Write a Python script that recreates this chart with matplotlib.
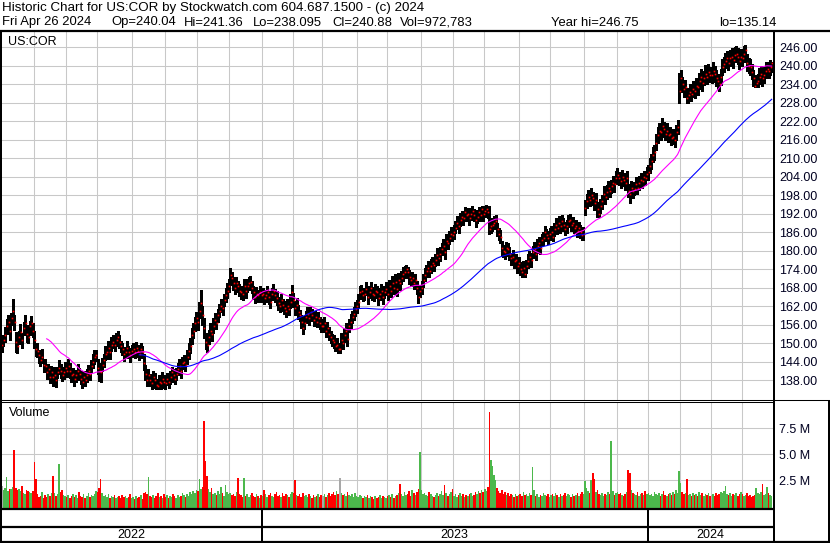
import matplotlib
matplotlib.use('Agg')
import matplotlib.pyplot as plt
from matplotlib.lines import Line2D
import numpy as np
import pandas as pd

plt.rcParams['font.family'] = ['Liberation Sans', 'DejaVu Sans']

# NYSE holidays inside the window
holidays = ['2022-05-30', '2022-06-20', '2022-07-04', '2022-09-05', '2022-11-24',
            '2022-12-26', '2023-01-02', '2023-01-16', '2023-02-20', '2023-04-07',
            '2023-05-29', '2023-06-19', '2023-07-04', '2023-09-04', '2023-11-23',
            '2023-12-25', '2024-01-01', '2024-01-15', '2024-02-19', '2024-03-29']

# daily closes, one row per month (May 2022 .. Apr 2024)
close = [
    149.5, 151.0, 152.5, 155.5, 157.0, 154.0, 158.0, 160.5, 157.0, 150.5, 149.0, 152.0, 153.5, 151.0, 155.0, 156.5, 153.0, 152.0, 155.5, 156.5, 154.0,
    151.0, 148.0, 147.5, 146.0, 144.5, 145.5, 143.0, 142.5, 140.5, 141.5, 139.0, 140.5, 139.0, 139.5, 138.0, 140.5, 142.0, 141.0, 139.5, 140.5, 142.0,
    141.0, 142.5, 141.0, 139.5, 140.0, 138.5, 139.5, 141.0, 140.0, 138.5, 137.5, 139.0, 138.0, 139.5, 141.0, 140.0, 142.5, 144.0, 145.5, 146.0,
    142.0, 141.0, 140.5, 143.0, 144.5, 146.5, 147.0, 148.5, 147.0, 149.5, 150.5, 149.5, 151.0, 152.0, 150.5, 149.0, 148.0, 146.5, 147.0, 148.5, 147.0, 146.0, 147.5,
    148.0, 147.0, 148.5, 147.5, 146.5, 148.0, 147.0, 143.5, 140.0, 138.0, 139.5, 138.0, 137.0, 139.0, 138.0, 136.5, 136.0, 137.5, 137.0, 138.5, 137.5,
    137.0, 138.5, 137.5, 139.0, 140.5, 139.5, 138.5, 140.0, 141.5, 142.5, 141.0, 143.5, 144.0, 143.0, 145.5, 147.5, 149.0, 152.5, 154.0, 156.5, 158.0,
    157.0, 160.5, 163.0, 159.0, 155.0, 150.5, 149.5, 152.0, 154.0, 153.0, 155.5, 157.5, 156.5, 159.0, 160.5, 162.0, 161.5, 164.0, 165.5, 167.0, 168.5,
    172.0, 171.0, 169.5, 168.0, 169.5, 168.5, 167.0, 166.5, 166.0, 168.5, 167.0, 168.5, 169.5, 170.0, 168.0, 166.5, 165.0, 166.0, 165.5, 166.5, 165.5,
    166.0, 164.5, 165.5, 166.5, 165.0, 163.5, 166.0, 167.0, 165.5, 164.5, 163.0, 162.0, 164.0, 162.5, 161.5, 160.5, 162.0, 161.0, 163.5, 166.5,
    164.0, 161.5, 162.5, 160.0, 159.0, 157.0, 155.0, 156.5, 158.5, 159.5, 158.0, 160.0, 159.0, 157.5, 158.5, 157.0, 158.0, 156.5, 155.5,
    155.5, 156.5, 154.0, 155.0, 153.0, 152.0, 151.0, 150.5, 149.0, 149.5, 148.0, 148.0, 151.0, 150.0, 152.5, 154.0, 151.5, 155.5, 157.0, 158.5, 159.5, 161.0, 162.0,
    163.5, 166.5, 167.0, 165.5, 166.0, 167.5, 165.0, 166.5, 168.0, 166.0, 165.5, 167.0, 166.5, 164.5, 166.0, 167.0, 165.0, 166.5, 167.5,
    166.0, 168.5, 167.0, 169.5, 168.0, 170.0, 167.5, 170.5, 169.5, 171.0, 172.5, 173.0, 174.0, 173.0, 171.5, 170.5, 171.0, 169.5, 170.5, 168.0, 165.0, 167.0,
    168.0, 170.5, 172.0, 173.5, 174.5, 173.5, 175.0, 176.0, 175.5, 177.0, 178.5, 177.5, 179.0, 180.5, 181.5, 179.5, 183.0, 182.5, 184.0, 185.5, 185.0,
    186.0, 187.5, 189.0, 188.0, 190.0, 191.0, 190.5, 192.5, 191.5, 192.0, 190.5, 192.0, 193.0, 191.5, 190.0, 191.0, 192.5, 191.5, 193.5, 192.0,
    193.0, 193.5, 192.5, 187.0, 188.0, 188.5, 189.0, 189.5, 187.0, 185.5, 184.5, 181.0, 180.0, 179.5, 181.0, 180.5, 179.0, 177.5, 178.0, 176.5, 177.0, 175.0, 176.0,
    174.0, 173.0, 174.5, 172.5, 175.0, 176.5, 178.0, 177.0, 179.5, 180.5, 179.0, 181.5, 182.5, 181.0, 183.5, 184.0, 186.0, 185.0, 184.0, 185.5,
    186.0, 184.5, 187.0, 188.5, 187.5, 189.0, 188.0, 189.5, 188.5, 187.0, 188.0, 189.5, 190.0, 188.5, 189.0, 187.5, 188.0, 186.5, 187.5, 186.0, 185.0, 185.5,
    194.0, 196.0, 197.5, 196.5, 198.0, 197.0, 195.5, 196.5, 193.5, 192.0, 194.5, 196.0, 198.5, 197.5, 199.0, 200.5, 199.5, 201.0, 202.0, 201.5, 203.5,
    204.5, 203.5, 202.5, 204.0, 203.0, 202.0, 203.5, 199.5, 198.5, 200.5, 199.5, 200.0, 201.5, 200.5, 202.0, 203.0, 202.5, 204.0, 203.5, 205.0,
    205.5, 207.5, 209.0, 211.0, 212.0, 215.0, 217.5, 219.0, 218.5, 220.5, 219.5, 218.0, 219.0, 217.5, 218.0, 216.5, 217.0, 216.0, 218.5, 220.0, 232.0,
    236.0, 234.0, 232.5, 233.0, 229.5, 230.5, 231.5, 231.0, 232.5, 232.0, 233.5, 233.0, 235.0, 236.5, 234.5, 236.0, 237.5, 236.5, 238.0, 237.0,
    237.0, 238.5, 237.5, 236.0, 235.0, 234.0, 236.5, 239.5, 240.5, 241.5, 242.5, 241.0, 242.5, 243.0, 242.0, 243.5, 244.0, 243.0, 241.5, 243.0,
    242.5, 244.0, 245.0, 241.0, 240.0, 239.5, 238.0, 236.0, 233.5, 234.5, 235.0, 236.5, 237.5, 236.0, 237.0, 238.5, 239.0, 238.5, 239.5, 240.88,
]

# distance from close up to the day's high
up = [
    2.1, 1.8, 2.6, 2.4, 2.0, 2.9, 1.9, 3.9, 2.2, 3.1, 2.4, 1.9, 2.7, 2.3, 1.8, 2.5, 3.0, 2.0, 1.7, 2.2, 2.6,
    2.8, 2.0, 2.4, 1.8, 2.2, 2.6, 1.9, 2.3, 2.5, 1.7, 2.4, 2.0, 2.2, 2.7, 1.9, 1.8, 2.5, 2.2, 2.4, 1.7, 2.0,
    1.9, 2.2, 2.4, 1.8, 2.0, 2.3, 1.7, 2.2, 1.9, 2.5, 2.0, 1.8, 2.3, 2.2, 1.9, 2.4, 2.0, 2.5, 2.2, 1.9,
    3.0, 2.4, 2.6, 2.2, 1.9, 2.5, 2.0, 2.3, 2.2, 2.4, 2.0, 1.9, 2.3, 1.9, 2.2, 1.8, 2.0, 2.4, 1.9, 2.2, 2.0, 2.3, 1.8,
    1.9, 2.2, 1.8, 2.0, 2.3, 1.9, 2.2, 3.0, 2.8, 2.4, 2.2, 2.0, 2.3, 1.9, 2.2, 2.0, 1.8, 2.2, 1.9, 2.0, 2.3,
    2.2, 1.9, 2.3, 2.0, 1.8, 2.2, 2.4, 1.9, 2.0, 2.3, 2.2, 1.9, 2.0, 2.4, 2.2, 2.5, 2.6, 2.3, 2.4, 2.0, 2.2,
    2.6, 2.8, 4.4, 3.0, 3.2, 2.9, 2.6, 2.4, 2.6, 2.3, 2.5, 2.2, 2.4, 2.0, 2.3, 2.2, 2.4, 2.0, 2.3, 2.5, 2.2,
    2.5, 2.2, 1.9, 2.3, 2.0, 1.8, 2.2, 1.9, 2.0, 2.3, 1.9, 2.2, 2.0, 1.8, 2.2, 1.9, 2.0, 2.3, 1.9, 2.2, 1.8,
    2.0, 2.3, 1.9, 2.2, 2.0, 2.4, 1.9, 2.2, 2.0, 2.3, 1.9, 2.2, 2.0, 1.8, 2.3, 2.0, 2.2, 1.9, 2.4, 2.5,
    2.4, 2.2, 2.0, 2.3, 1.9, 2.2, 2.0, 2.3, 1.9, 2.2, 2.0, 1.8, 2.2, 2.0, 1.9, 2.3, 2.0, 1.9, 2.2,
    2.2, 2.0, 2.3, 1.9, 2.2, 2.0, 1.9, 2.2, 2.0, 2.3, 1.9, 2.2, 2.4, 2.0, 2.3, 2.5, 2.2, 2.4, 2.3, 2.0, 2.2, 2.4, 2.0,
    2.3, 2.0, 1.9, 2.2, 2.0, 2.4, 1.9, 2.2, 2.0, 2.3, 1.9, 2.2, 2.0, 2.4, 1.9, 2.2, 2.0, 1.9, 2.3,
    2.2, 2.0, 2.3, 2.4, 2.0, 2.3, 2.2, 2.4, 2.0, 2.3, 2.2, 1.9, 1.5, 1.8, 2.3, 2.0, 2.2, 1.9, 2.0, 2.2, 2.4, 2.0,
    2.2, 2.0, 2.3, 1.9, 2.2, 2.0, 2.3, 1.9, 2.2, 2.0, 2.3, 1.9, 2.2, 2.0, 2.3, 2.2, 2.4, 2.0, 2.3, 2.2, 2.0,
    2.3, 2.0, 2.2, 1.9, 2.3, 2.0, 2.2, 1.6, 2.0, 1.8, 2.2, 1.9, 1.4, 2.2, 2.0, 2.3, 1.6, 2.2, 1.0, 1.8,
    1.4, 1.2, 1.6, 7.5, 2.4, 2.0, 2.3, 2.2, 2.0, 1.9, 2.2, 2.3, 2.0, 2.2, 1.9, 2.0, 2.3, 1.9, 2.2, 2.0, 1.9, 2.2, 2.0,
    2.2, 2.0, 2.3, 2.2, 2.0, 2.3, 1.9, 2.2, 2.0, 2.3, 1.9, 2.2, 2.0, 2.3, 1.9, 2.2, 2.0, 1.9, 2.3, 2.0,
    2.0, 2.3, 1.9, 2.2, 2.0, 2.3, 1.9, 2.2, 2.0, 2.3, 1.9, 2.2, 2.0, 2.3, 1.9, 2.2, 2.0, 2.3, 1.9, 2.2, 2.0, 2.3,
    2.6, 2.4, 2.3, 2.2, 2.4, 2.0, 2.3, 2.2, 2.4, 2.0, 2.3, 2.2, 2.4, 2.0, 2.3, 2.2, 2.4, 2.0, 2.3, 2.2, 2.4,
    2.3, 2.0, 2.4, 2.2, 2.3, 2.0, 2.4, 2.2, 2.3, 2.0, 2.4, 2.2, 2.3, 2.0, 2.4, 2.2, 2.3, 2.0, 2.4, 2.2,
    2.4, 2.6, 2.5, 2.7, 2.4, 2.8, 2.6, 2.5, 2.4, 2.6, 2.3, 2.5, 2.4, 2.6, 2.3, 2.5, 2.4, 2.6, 2.3, 2.5, 5.7,
    2.6, 2.4, 2.8, 2.5, 2.7, 2.4, 2.6, 2.5, 2.7, 2.4, 2.6, 2.5, 2.7, 2.4, 2.6, 2.5, 2.7, 2.4, 2.6, 2.5,
    2.5, 2.7, 2.4, 2.6, 2.5, 2.7, 2.4, 2.6, 2.5, 2.7, 2.4, 2.6, 2.5, 2.7, 2.4, 2.6, 2.5, 2.7, 2.4, 2.6,
    2.6, 2.4, 1.75, 2.7, 2.4, 2.6, 2.5, 2.7, 2.4, 2.6, 2.5, 2.7, 2.4, 2.6, 2.5, 2.7, 2.4, 2.6, 2.5, 0.48,
]

# distance from close down to the day's low
dn = [
    2.3, 1.9, 2.1, 2.6, 1.7, 2.9, 2.0, 2.4, 2.8, 3.5, 2.1, 2.4, 1.9, 2.6, 2.2, 1.8, 2.5, 2.0, 2.7, 2.1, 1.9,
    2.5, 2.1, 1.9, 2.6, 2.0, 1.8, 2.4, 1.7, 2.2, 2.5, 2.0, 1.9, 2.8, 2.1, 2.4, 1.8, 2.0, 2.2, 1.9, 2.1, 1.8,
    2.0, 1.8, 2.2, 2.1, 1.9, 2.3, 2.0, 1.7, 2.1, 1.9, 2.0, 2.0, 1.8, 2.2, 1.9, 2.1, 1.8, 2.0, 2.3, 1.9,
    2.1, 3.2, 3.0, 1.9, 2.2, 2.0, 2.3, 1.8, 2.1, 1.9, 2.2, 2.0, 1.8, 2.3, 2.1, 1.9, 2.0, 2.2, 1.8, 2.1, 1.9, 2.0, 2.1,
    2.0, 1.8, 2.1, 1.9, 2.0, 2.2, 1.9, 2.3, 2.1, 2.0, 2.4, 1.8, 1.8, 1.8, 2.5, 1.3, 0.86, 2.3, 1.8, 2.1, 2.2,
    1.8, 2.1, 2.0, 2.2, 1.9, 2.0, 1.8, 2.1, 2.0, 1.9, 2.2, 2.0, 2.1, 1.9, 2.3, 2.5, 2.2, 2.7, 2.4, 2.6, 2.3,
    2.7, 2.5, 3.0, 3.1, 3.3, 2.5, 2.5, 2.3, 2.2, 2.4, 2.1, 2.3, 2.0, 2.2, 2.1, 1.9, 2.3, 2.0, 2.1, 2.2, 2.0,
    2.3, 2.0, 2.1, 1.9, 2.2, 2.0, 1.8, 2.1, 1.9, 2.0, 2.2, 1.9, 2.1, 2.0, 1.8, 2.1, 2.0, 1.9, 2.2, 2.0, 2.1,
    2.1, 1.9, 2.0, 1.8, 2.2, 2.0, 2.1, 1.9, 2.3, 2.0, 2.1, 1.9, 2.0, 2.2, 1.9, 2.1, 2.0, 1.8, 2.1, 2.0,
    2.2, 2.3, 2.0, 2.1, 1.9, 2.2, 2.1, 2.0, 1.9, 2.1, 2.0, 2.2, 1.9, 2.1, 2.0, 1.8, 2.1, 2.0, 1.9,
    2.0, 2.2, 2.1, 1.9, 2.0, 2.1, 1.9, 2.2, 1.7, 1.9, 1.2, 1.2, 2.3, 2.0, 2.2, 2.1, 2.4, 2.0, 2.2, 2.1, 1.9, 2.3, 2.1,
    2.1, 2.3, 2.0, 1.9, 2.1, 2.0, 2.2, 1.9, 2.1, 2.0, 1.9, 2.2, 2.0, 2.1, 1.9, 2.0, 2.2, 1.9, 2.0,
    2.0, 2.1, 1.9, 2.2, 2.0, 2.1, 2.3, 2.0, 2.1, 1.9, 2.2, 2.0, 2.1, 1.9, 2.2, 2.0, 2.1, 2.0, 1.9, 2.1, 2.0, 2.0,
    2.0, 2.2, 1.9, 2.1, 2.0, 1.9, 2.1, 2.0, 2.2, 1.9, 2.1, 2.0, 2.2, 1.9, 2.1, 2.3, 2.0, 2.1, 1.9, 2.2, 2.0,
    2.1, 1.9, 2.0, 2.2, 1.9, 2.1, 2.0, 2.2, 1.9, 2.1, 2.3, 2.0, 2.1, 1.9, 2.2, 2.0, 2.1, 1.9, 2.0, 2.2,
    2.0, 2.1, 1.9, 1.5, 2.2, 2.1, 2.0, 2.2, 2.3, 2.1, 2.0, 2.5, 2.2, 2.1, 2.0, 2.2, 2.1, 2.0, 1.9, 2.1, 2.0, 2.2, 2.1,
    2.0, 1.4, 2.9, 0.9, 2.2, 2.1, 2.0, 2.2, 1.9, 2.1, 2.0, 2.2, 1.9, 2.1, 2.0, 2.2, 2.1, 2.0, 1.9, 2.1,
    2.1, 1.5, 2.2, 1.9, 2.1, 2.0, 2.2, 1.9, 2.1, 2.0, 2.2, 1.9, 2.1, 2.0, 2.2, 1.9, 2.1, 2.0, 2.2, 2.0, 1.4, 2.1,
    2.5, 2.1, 2.3, 2.0, 2.2, 2.1, 2.3, 2.0, 2.5, 1.0, 2.1, 2.3, 2.0, 2.2, 2.1, 2.3, 2.0, 2.2, 2.1, 2.3, 2.0,
    2.1, 2.3, 2.0, 2.2, 2.1, 2.3, 2.0, 2.2, 2.9, 2.1, 2.3, 2.0, 2.2, 2.1, 2.3, 2.0, 2.2, 2.1, 2.3, 2.0,
    2.4, 2.3, 2.5, 2.2, 2.4, 2.3, 2.5, 2.2, 2.4, 2.3, 2.5, 2.2, 2.4, 2.3, 2.5, 2.2, 2.4, 2.3, 2.5, 2.2, 4.0,
    2.6, 2.4, 2.5, 2.3, 1.5, 2.4, 2.6, 2.3, 2.5, 2.4, 2.6, 2.3, 2.5, 2.4, 2.6, 2.3, 2.5, 2.4, 2.6, 2.3,
    2.5, 2.3, 2.6, 2.4, 2.5, 2.3, 2.6, 2.4, 2.5, 2.3, 2.6, 2.4, 2.5, 2.3, 2.6, 2.4, 2.5, 2.3, 2.6, 2.4,
    2.4, 2.6, 2.3, 2.5, 2.4, 2.6, 2.3, 2.5, 0.5, 1.5, 2.0, 2.3, 2.5, 2.4, 2.6, 2.3, 2.5, 2.4, 2.6, 2.785,
]

# daily volume, millions of shares
vol = [
    2.0, 1.6, 1.8, 2.8, 1.5, 1.7, 1.7, 1.9, 5.4, 1.8, 1.6, 1.7, 1.5, 2.0, 1.3, 1.2, 1.6, 1.5, 1.4, 1.3, 1.5,
    4.3, 2.6, 1.2, 0.9, 1.0, 1.4, 0.8, 1.1, 0.9, 1.2, 1.0, 1.3, 2.9, 1.3, 1.0, 1.2, 4.1, 1.4, 1.6, 1.1, 1.0,
    0.9, 1.1, 0.8, 1.0, 1.2, 0.9, 1.1, 0.8, 1.4, 1.0, 0.9, 1.2, 0.8, 1.0, 1.3, 0.9, 1.1, 1.0, 1.2, 1.5,
    1.4, 1.8, 2.6, 1.3, 1.0, 1.1, 0.9, 1.2, 0.8, 1.0, 0.9, 1.1, 0.8, 0.9, 1.0, 0.8, 1.1, 0.9, 1.0, 0.8, 0.9, 1.2, 0.8,
    0.9, 0.7, 1.0, 0.8, 0.9, 1.1, 0.7, 1.3, 1.4, 1.2, 2.8, 1.0, 0.9, 1.1, 0.8, 1.0, 1.3, 0.9, 1.0, 0.8, 1.2,
    0.9, 1.1, 0.8, 1.0, 0.9, 1.2, 1.0, 0.8, 1.1, 0.9, 1.0, 1.3, 1.1, 0.9, 1.2, 1.0, 1.4, 1.2, 1.5, 1.3, 1.6,
    1.5, 2.6, 1.7, 1.9, 8.2, 4.4, 2.9, 1.7, 1.4, 1.8, 1.2, 1.3, 1.1, 1.5, 1.2, 1.9, 1.3, 1.0, 2.1, 1.4, 1.2,
    1.3, 1.1, 1.2, 1.0, 1.4, 2.7, 1.2, 1.1, 0.9, 2.7, 1.0, 1.2, 0.9, 1.1, 1.3, 1.0, 0.9, 1.2, 1.0, 0.8, 1.1,
    1.0, 1.6, 1.2, 0.9, 1.1, 1.3, 1.0, 0.9, 1.2, 1.4, 1.0, 1.1, 0.9, 1.3, 1.0, 1.2, 1.1, 0.9, 1.2, 1.4,
    1.3, 2.5, 1.1, 1.0, 1.2, 0.9, 1.3, 1.0, 1.1, 0.9, 1.2, 1.0, 0.8, 1.1, 0.9, 1.0, 1.2, 0.9, 1.1,
    1.0, 1.2, 0.9, 1.1, 1.3, 1.0, 1.2, 1.4, 1.1, 1.5, 1.2, 2.7, 1.3, 1.1, 1.2, 1.0, 1.4, 1.1, 1.0, 1.2, 0.9, 1.3, 1.0,
    0.9, 1.1, 1.0, 0.8, 1.0, 0.9, 1.1, 0.8, 1.0, 0.9, 0.7, 1.0, 0.8, 0.9, 1.1, 0.8, 1.0, 0.9, 0.8,
    1.0, 1.1, 0.9, 1.2, 0.8, 1.0, 1.1, 1.3, 2.2, 1.2, 1.0, 1.4, 1.1, 1.2, 1.5, 1.0, 1.6, 1.3, 1.1, 1.4, 1.7, 5.2,
    1.6, 1.2, 1.3, 1.1, 1.0, 1.4, 1.2, 1.0, 0.9, 1.1, 1.3, 1.0, 1.2, 1.5, 1.1, 2.1, 1.3, 1.0, 1.2, 1.4, 1.7,
    1.0, 1.2, 0.9, 1.1, 1.3, 1.0, 1.2, 0.9, 1.1, 1.0, 1.2, 1.3, 1.0, 1.1, 1.4, 1.2, 1.5, 1.3, 1.6, 1.4,
    1.7, 1.5, 1.9, 9.1, 4.5, 3.9, 3.0, 2.5, 1.8, 1.5, 1.3, 1.6, 1.2, 1.4, 1.1, 1.3, 1.0, 1.2, 1.1, 0.9, 1.2, 1.0, 1.1,
    1.2, 1.0, 1.4, 1.1, 1.2, 1.0, 1.3, 1.1, 3.8, 1.6, 1.0, 1.2, 0.9, 1.1, 1.0, 1.3, 1.1, 1.0, 1.2, 0.9,
    1.1, 1.2, 1.0, 1.3, 1.1, 0.9, 1.2, 1.0, 1.1, 1.3, 1.0, 1.2, 1.1, 0.9, 1.2, 1.0, 1.1, 1.3, 1.0, 1.2, 1.4, 1.2,
    2.4, 1.8, 1.5, 1.3, 2.5, 3.2, 2.6, 1.4, 1.6, 1.2, 1.1, 1.3, 1.0, 1.2, 1.1, 1.4, 1.2, 6.3, 1.5, 1.1, 1.3,
    1.4, 1.2, 1.3, 1.1, 1.0, 1.2, 1.4, 3.5, 3.2, 1.6, 1.3, 1.2, 1.1, 1.4, 1.0, 1.2, 1.3, 1.1, 1.5, 1.2,
    1.3, 1.1, 1.2, 1.0, 1.4, 1.2, 1.1, 1.3, 1.0, 1.2, 1.5, 1.1, 1.0, 1.2, 1.3, 1.1, 1.4, 1.2, 1.6, 1.3, 3.4,
    2.3, 1.4, 1.2, 1.3, 2.6, 1.1, 1.2, 1.0, 1.3, 1.1, 1.2, 1.0, 1.4, 1.1, 1.3, 1.0, 1.2, 1.1, 1.3, 1.0,
    1.1, 1.2, 1.0, 1.3, 1.1, 1.2, 1.4, 1.3, 1.5, 2.0, 1.2, 1.1, 1.3, 1.0, 1.2, 1.1, 1.3, 1.0, 1.2, 1.4,
    1.2, 1.0, 1.1, 1.3, 1.0, 1.1, 0.9, 1.0, 1.1, 1.8, 1.3, 1.2, 1.4, 2.2, 1.1, 1.2, 1.9, 1.3, 1.1, 0.97,
]

price_ticks = list(range(138, 247, 6))
vol_ticks = [2.5, 5.0, 7.5]
vol_labels = ['2.5 M', '5.0 M', '7.5 M']
header1 = 'Historic Chart for US:COR by Stockwatch.com 604.687.1500 - (c) 2024'
header2 = ['Fri Apr 26 2024', 'Op=240.04', 'Hi=241.36', 'Lo=238.095', 'Cl=240.88',
           'Vol=972,783', 'Year hi=246.75', 'lo=135.14']
header2_x = [2, 111, 184, 253, 332, 400, 551, 719]

dates = pd.bdate_range('2022-05-02', '2024-04-26', freq='C', holidays=holidays)
n = len(close)
dates = dates[-n:]
close = np.array(close)
high = close + np.array(up)
low = close - np.array(dn)
vol = np.array(vol)
x = np.arange(n)

prev = np.r_[np.nan, close[:-1]]
vcol = np.where(close > prev, '#4cb84c', np.where(close < prev, '#ff0000', '#a8a8a8'))
ma30 = pd.Series(close).rolling(30).mean()
ma90 = pd.Series(close).rolling(90).mean()

month_start = [i for i in range(1, n) if dates[i].month != dates[i - 1].month]
year_start = [i for i in range(1, n) if dates[i].year != dates[i - 1].year]

W, H = 830, 543
fig = plt.figure(figsize=(W / 100, H / 100), dpi=100)


def box(x0, y0, x1, y1):
    return [x0 / W, 1 - y1 / H, (x1 - x0) / W, (y1 - y0) / H]


def hline(y, x0, x1, lw=1.44):
    fig.add_artist(Line2D([x0 / W, x1 / W], [1 - y / H, 1 - y / H], color='black',
                          lw=lw, transform=fig.transFigure, solid_capstyle='butt'))


def vline(xp, y0, y1, lw=1.44):
    fig.add_artist(Line2D([xp / W, xp / W], [1 - y0 / H, 1 - y1 / H], color='black',
                          lw=lw, transform=fig.transFigure, solid_capstyle='butt'))


XL = (-0.6, n + 0.5)
grid_kw = dict(color='#c8c8c8', lw=0.75)

# price panel
ax = fig.add_axes(box(1, 32, 774, 399.5))
ax.set_xlim(*XL)
ax.set_ylim(131.7, 251.0)
for i in month_start:
    ax.axvline(i - 0.5, zorder=0, **grid_kw)
for p in price_ticks:
    ax.axhline(p, zorder=0, **grid_kw)
ax.vlines(x, low, high, color='black', lw=0.9, antialiased=False, zorder=2)
ax.plot(x + 0.3, close, 's', color='red', ms=1.2, mew=0, zorder=3)
ax.plot(x, ma30, color='#ff00ff', lw=0.8, zorder=4)
ax.plot(x, ma90, color='#0000ff', lw=0.8, zorder=5)
ax.yaxis.tick_right()
ax.set_yticks(price_ticks)
ax.set_yticklabels(['%.2f' % p for p in price_ticks])
ax.set_xticks([])
ax.tick_params(axis='y', length=0, pad=3.6, labelsize=9, labelcolor='#000020')
for s in ax.spines.values():
    s.set_visible(False)
ax.text(7 / 773, 1 - 10 / 367.5, 'US:COR', transform=ax.transAxes, fontsize=9,
        va='center', ha='left')

# volume panel
av = fig.add_axes(box(1, 402.5, 774, 508.5))
av.set_xlim(*XL)
av.set_ylim(-0.2, 10.0)
for i in month_start:
    av.axvline(i - 0.5, zorder=0, **grid_kw)
for v in vol_ticks:
    av.axhline(v, zorder=0, **grid_kw)
av.bar(x, vol + 0.2, width=1.0, bottom=-0.2, color=vcol, linewidth=0,
       antialiased=False, zorder=2)
av.yaxis.tick_right()
av.set_yticks(vol_ticks)
av.set_yticklabels(vol_labels)
av.set_xticks([])
av.tick_params(axis='y', length=0, pad=3.6, labelsize=9, labelcolor='#000020')
for s in av.spines.values():
    s.set_visible(False)
av.text(8 / 773, 1 - 10.5 / 106, 'Volume', transform=av.transAxes, fontsize=9,
        va='center', ha='left')

# bottom rows with the year labels
ab = fig.add_axes(box(1, 509, 774, 542))
ab.set_xlim(*XL)
ab.set_ylim(0, 1)
ab.axis('off')
edges = [-0.5] + [i - 0.5 for i in year_start] + [n + 0.5]
for i in year_start:
    ab.axvline(i - 0.5, color='black', lw=1.44)
for k in range(len(edges) - 1):
    ab.text((edges[k] + edges[k + 1]) / 2, 0.22, str(dates[0].year + k), fontsize=9,
            ha='center', va='center')

# frame lines
hline(30.5, 0, W, lw=1.6)
vline(1.0, 30, 542.5, lw=1.44)
vline(774.3, 30, 542.5, lw=1.44)
hline(399.7, 0, 774, lw=0.75)
hline(401.8, 0, 774, lw=0.75)
hline(400.2, 774, W, lw=0.75)
vline(828.5, 400, 542.5, lw=1.44)
hline(508.8, 0, 774, lw=1.6)
hline(527.0, 0, 774, lw=1.6)
hline(541.7, 0, W, lw=1.6)

fig.text(2 / W, 1 - 7.5 / H, header1, fontsize=9.6, va='center', ha='left')
for s, xp in zip(header2, header2_x):
    fig.text(xp / W, 1 - 22.5 / H, s, fontsize=9.4, va='center', ha='left')

fig.savefig('out.png', dpi=100)
